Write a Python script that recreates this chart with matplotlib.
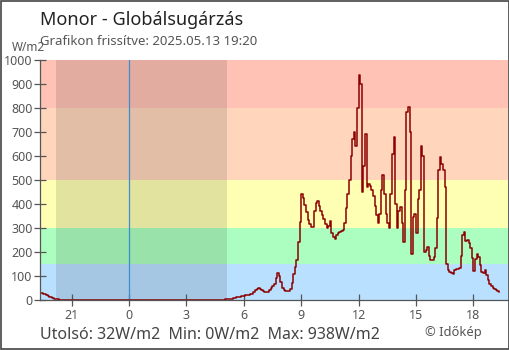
import numpy as np
import pandas as pd
import matplotlib
matplotlib.use('Agg')
import matplotlib.pyplot as plt
from matplotlib.patches import Rectangle

plt.rcParams['font.family'] = ['Noto Sans', 'DejaVu Sans']

allomas = 'Monor'
frissitve = '2025.05.13 19:20'

# W/m2, 5 perces adatok
este = [28, 27, 24, 21, 17, 14, 11, 8, 6, 4, 3, 2, 1, 0]  # 19:25 - 20:30
nappal = [
    3, 3, 4, 5, 6, 7, 9, 11, 13, 14, 15, 16,                    # 5
    17, 19, 21, 22, 24, 27, 33, 40, 45, 48, 46, 42,             # 6
    36, 33, 33, 35, 40, 50, 58, 68, 90, 112, 100, 75,           # 7
    50, 40, 37, 36, 38, 45, 70, 110, 136, 165, 240, 326,        # 8
    440, 424, 395, 365, 335, 315, 305, 305, 370, 405, 414, 390, # 9
    372, 355, 338, 318, 300, 310, 330, 280, 262, 255, 272, 280, # 10
    285, 288, 292, 320, 385, 440, 500, 600, 670, 700, 640, 800, # 11
    938, 900, 450, 560, 690, 470, 485, 475, 460, 432, 390, 355, # 12
    320, 360, 460, 520, 440, 360, 320, 300, 440, 610, 680, 400, # 13
    300, 370, 389, 320, 240, 460, 785, 805, 700, 190, 347, 360, # 14
    280, 420, 458, 640, 600, 200, 210, 222, 185, 165, 165, 178, # 15
    215, 340, 540, 595, 565, 540, 470, 150, 125, 118, 112, 108, # 16
    125, 129, 129, 135, 185, 272, 285, 245, 248, 238, 218, 175, # 17
    120, 170, 192, 180, 145, 118, 112, 125, 105, 82, 68, 60,    # 18
    50, 45, 42, 36, 32,                                         # 19
]

savok = [0, 150, 300, 500, 800, 1000]
sav_szinek = ['#bae0ff', '#acfec0', '#ffffb4', '#ffd6bb', '#ffc2b4']
naplemente, napkelte = '2025-05-12 20:10', '2025-05-13 05:07'

ejfel = pd.Timestamp('2025-05-13')
ora = pd.Timedelta(hours=1)
este_ido = pd.date_range('2025-05-12 19:25', periods=len(este), freq='5min')
nappal_ido = pd.date_range('2025-05-13 05:00', periods=len(nappal), freq='5min')
t = np.concatenate([((este_ido - ejfel) / ora).to_numpy(),
                    ((nappal_ido - ejfel) / ora).to_numpy()])
v = np.array(este + nappal)

fig = plt.figure(figsize=(5.1, 3.5), dpi=100)
ax = fig.add_axes([40 / 510, 50 / 350, 468 / 510, 240 / 350])

for i in range(len(sav_szinek)):
    ax.axhspan(savok[i], savok[i + 1], color=sav_szinek[i], lw=0, zorder=0)
ax.axvspan((pd.Timestamp(naplemente) - ejfel) / ora,
           (pd.Timestamp(napkelte) - ejfel) / ora,
           color='black', alpha=0.11, lw=0, zorder=1)
ax.axvline(0, color='#3b8ed0', lw=0.9, zorder=2)
ax.step(t, v, where='post', color='#8b0000', lw=1.1, zorder=3)

ax.set_xlim(-4.65, 19.81)
ax.set_ylim(0, 1000)
ax.set_xticks([-3, 0, 3, 6, 9, 12, 15, 18])
ax.set_xticklabels(['21', '0', '3', '6', '9', '12', '15', '18'])
ax.set_yticks(range(0, 1001, 100))
ax.tick_params(direction='inout', length=8.5, width=0.9, color='#555555',
               labelcolor='#555555', labelsize=9)
ax.tick_params(axis='x', pad=2)
ax.tick_params(axis='y', pad=1)
for s in ['top', 'right']:
    ax.spines[s].set_visible(False)
for s in ['left', 'bottom']:
    ax.spines[s].set_color('#555555')
    ax.spines[s].set_linewidth(0.9)
    ax.spines[s].set_zorder(4)

fig.text(40 / 510, 1 - 25 / 350, allomas + ' - Globálsugárzás', fontsize=13,
         color='#222222', va='baseline')
fig.text(40 / 510, 1 - 45 / 350, 'Grafikon frissítve: ' + frissitve,
         fontsize=9.5, color='#555555', va='baseline')
fig.text(12 / 510, 1 - 51 / 350, 'W/m2', fontsize=8.5, color='#555555', va='baseline')
fig.text(40 / 510, 1 - 339 / 350,
         f'Utolsó: {v[-1]}W/m2  Min: {v.min()}W/m2  Max: {v.max()}W/m2',
         fontsize=11.5, color='#444444', va='baseline')
fig.text(425 / 510, 1 - 336 / 350, '© Időkép', fontsize=9.3, color='#555555',
         va='baseline')

fig.patches.append(Rectangle((0.001, 0.0015), 0.997, 0.996, transform=fig.transFigure,
                             fill=False, ec='#444444', lw=1.2))

fig.savefig('out.png', dpi=100)
